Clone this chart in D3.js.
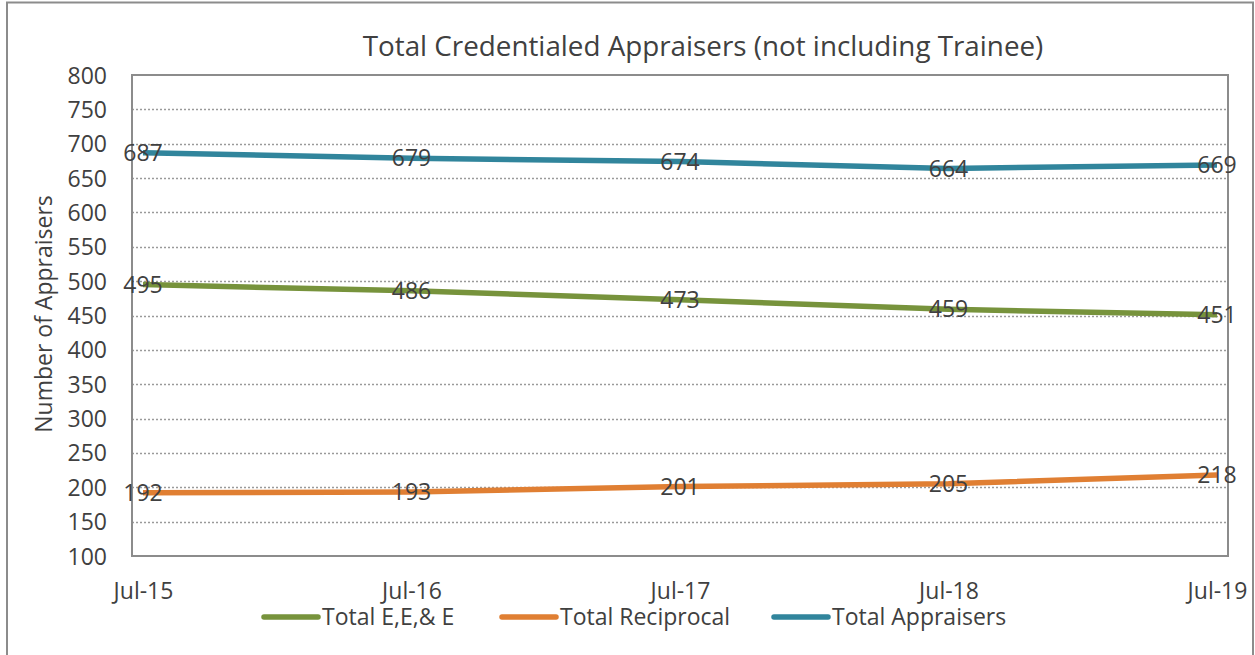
<!DOCTYPE html>
<html>
<head>
<meta charset="utf-8">
<script src="https://cdn.jsdelivr.net/npm/d3@7/dist/d3.min.js"></script>
<style>
  html, body { margin: 0; padding: 0; background: #fff; }
  svg { display: block; font-family: "Open Sans", "Noto Sans", sans-serif; }
</style>
</head>
<body>
<svg id="chart" width="1255" height="655"></svg>
<script>
const categories = ["Jul-15", "Jul-16", "Jul-17", "Jul-18", "Jul-19"];
const totalEEE = [495, 486, 473, 459, 451];
const totalReciprocal = [192, 193, 201, 205, 218];
const totalAppraisers = [687, 679, 674, 664, 669];
const yTicks = [100, 150, 200, 250, 300, 350, 400, 450, 500, 550, 600, 650, 700, 750, 800];
const seriesNames = ["Total E,E,& E", "Total Reciprocal", "Total Appraisers"];
const seriesColors = ["#77933C", "#E07F33", "#31859C"];

const series = [
  { name: seriesNames[0], values: totalEEE, color: seriesColors[0] },
  { name: seriesNames[1], values: totalReciprocal, color: seriesColors[1] },
  { name: seriesNames[2], values: totalAppraisers, color: seriesColors[2] }
];

const FS = 23;
const svg = d3.select("#chart");
const plot = { left: 132, right: 1228, top: 75, bottom: 556 };

// outer border
svg.append("rect").attr("x", 7).attr("y", 2.5).attr("width", 1246).attr("height", 660)
  .attr("fill", "#fff").attr("stroke", "#8c8c8c").attr("stroke-width", 2);

const x = d3.scalePoint().domain(categories).range([plot.left + 11, plot.right - 11]);
const y = d3.scaleLinear().domain([100, 800]).range([plot.bottom, plot.top]);

// gridlines
svg.append("g").selectAll("line").data(yTicks.filter(t => t > 100 && t < 800)).join("line")
  .attr("x1", plot.left).attr("x2", plot.right)
  .attr("y1", d => Math.round(y(d)) + 0.5).attr("y2", d => Math.round(y(d)) + 0.5)
  .attr("stroke", "#9a9a9a").attr("stroke-width", 1.5).attr("stroke-dasharray", "2,2");

// plot frame
svg.append("rect").attr("x", plot.left).attr("y", plot.top)
  .attr("width", plot.right - plot.left).attr("height", plot.bottom - plot.top)
  .attr("fill", "none").attr("stroke", "#8c8c8c").attr("stroke-width", 2);

// y axis
const yAxis = d3.axisLeft(y).tickValues(yTicks).tickSize(0).tickPadding(0);
const yg = svg.append("g").attr("transform", `translate(107,0)`).call(yAxis);
yg.select(".domain").remove();
yg.selectAll("text").attr("font-size", FS).attr("fill", "#404040")
  .attr("font-family", "'Open Sans', sans-serif").attr("dy", "0.35em");

// x axis
const xAxis = d3.axisBottom(x).tickSize(0).tickPadding(0);
const xg = svg.append("g").attr("transform", `translate(0,${591})`).call(xAxis);
xg.select(".domain").remove();
xg.selectAll("text").attr("font-size", FS).attr("fill", "#404040")
  .attr("font-family", "'Open Sans', sans-serif").attr("dy", "0.35em");

// lines
const line = d3.line().x((d, i) => x(categories[i])).y(d => y(d));
svg.append("g").selectAll("path").data(series).join("path")
  .attr("d", s => line(s.values)).attr("fill", "none")
  .attr("stroke", s => s.color).attr("stroke-width", 5.5)
  .attr("stroke-linejoin", "round").attr("stroke-linecap", "butt");

// data labels
series.forEach(s => {
  svg.append("g").selectAll("text").data(s.values).join("text")
    .attr("x", (d, i) => x(categories[i])).attr("y", d => y(d))
    .attr("text-anchor", "middle").attr("dy", "0.35em")
    .attr("font-size", FS).attr("fill", "#404040").text(d => d);
});

// title
svg.append("text").attr("x", 703).attr("y", 46).attr("dy", "0.35em")
  .attr("text-anchor", "middle").attr("font-size", 27.8).attr("fill", "#404040")
  .text("Total Credentialed Appraisers (not including Trainee)");

// y axis title
svg.append("text").attr("transform", "translate(44,314) rotate(-90)")
  .attr("text-anchor", "middle").attr("dy", "0.35em")
  .attr("font-size", FS).attr("fill", "#404040").text("Number of Appraisers");

// legend
const legendX = [262, 500, 772];
const lg = svg.append("g").selectAll("g").data(series).join("g")
  .attr("transform", (d, i) => `translate(${legendX[i]},617)`);
lg.append("line").attr("x1", 2).attr("x2", 56).attr("y1", 0).attr("y2", 0)
  .attr("stroke", d => d.color).attr("stroke-width", 5.5).attr("stroke-linecap", "round");
lg.append("text").attr("x", 60).attr("dy", "0.35em").attr("font-size", FS)
  .attr("fill", "#404040").text(d => d.name);
</script>
</body>
</html>
